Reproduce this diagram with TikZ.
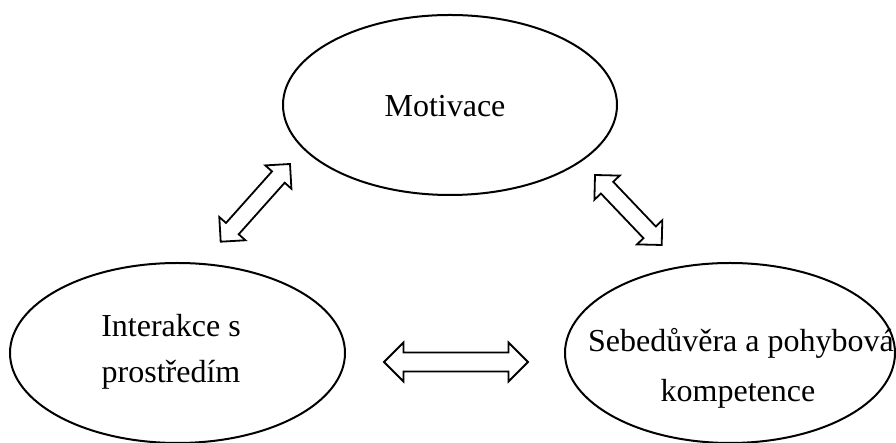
\documentclass[tikz,border=0pt]{standalone}
\usepackage{fontspec}
\setmainfont{Liberation Serif}
\usetikzlibrary{shapes.geometric,calc}
\newcommand{\blockarr}[5]{%
  \coordinate (#1-h) at ($(#1)!#5!(#2)$);
  \coordinate (#2-h) at ($(#2)!#5!(#1)$);
  \draw[arr] (#1)
    -- ($(#1-h)!#4!90:(#2)$) -- ($(#1-h)!#3!90:(#2)$)
    -- ($(#2-h)!#3!-90:(#1)$) -- ($(#2-h)!#4!-90:(#1)$)
    -- (#2)
    -- ($(#2-h)!#4!90:(#1)$) -- ($(#2-h)!#3!90:(#1)$)
    -- ($(#1-h)!#3!-90:(#2)$) -- ($(#1-h)!#4!-90:(#2)$)
    -- cycle;}
\begin{document}
\begin{tikzpicture}[x=1pt,y=1pt,
  oval/.style={draw=black,line width=2pt,ellipse,inner sep=0pt},
  lbl/.style={anchor=base,inner sep=0pt,font=\fontsize{32}{40}\selectfont},
  arr/.style={draw=black,fill=white,line width=1.8pt,line join=miter},
]
\useasboundingbox (0,0) rectangle (896,443);
\node[oval,minimum width=334pt,minimum height=180pt] (mot) at (450,338) {};
\node[oval,minimum width=335pt,minimum height=180pt] (int) at (177.5,90) {};
\node[oval,minimum width=330pt,minimum height=180pt] (seb) at (730,90) {};
\node[lbl] (motT) at (445,326) {Motivace};
\node[lbl] (intT1) at (171,106) {Interakce s};
\node[lbl] (intT2) at (171,60) {prostředím};
\node[lbl] (sebT1) at (741,91) {Sebedůvěra a pohybová};
\node[lbl] (sebT2) at (738,41) {kompetence};
\coordinate (a1s) at (220.7,201.3);
\coordinate (a1e) at (290,279);
\coordinate (a2s) at (595,268);
\coordinate (a2e) at (661.7,198);
\coordinate (a3s) at (384,81);
\coordinate (a3e) at (528,81);
\blockarr{a1s}{a1e}{8.5pt}{17.5pt}{17.5pt}
\blockarr{a2s}{a2e}{8.5pt}{17.5pt}{17.5pt}
\blockarr{a3s}{a3e}{9.5pt}{19.5pt}{19.5pt}
\end{tikzpicture}
\end{document}
